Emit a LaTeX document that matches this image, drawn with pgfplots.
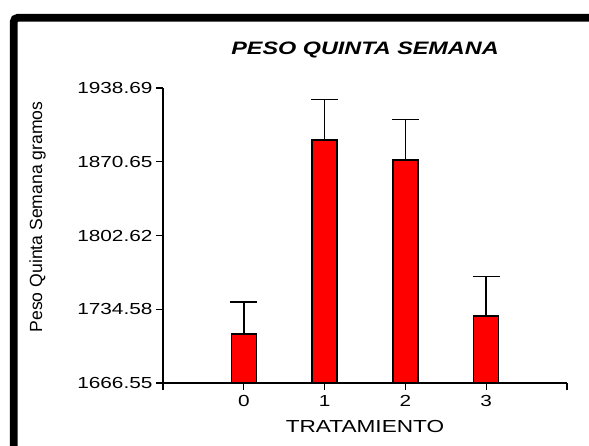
\documentclass[border=0pt]{standalone}
\usepackage{fontspec}
\setmainfont{Liberation Sans}[FakeStretch=1.3]
\newfontfamily\ylabfont{Liberation Sans}
\usepackage{pgfplots}
\pgfplotsset{compat=1.18}

\begin{document}
\begin{tikzpicture}[x=1pt,y=1pt]
\useasboundingbox (0,0) rectangle (589,446);
% marco negro (recortado arriba a la derecha y abajo)
\begin{scope}
  \clip (0,0) rectangle (589,446);
  \draw[line width=7.7pt, rounded corners=4pt] (13.7,-20) -- (13.7,428.2) -- (620,428.2);
\end{scope}
\begin{axis}[
    at={(163pt,63pt)}, anchor=south west,
    scale only axis,
    width=404pt, height=295pt,
    xmin=-1, xmax=4,
    ymin=1666.55, ymax=1938.69,
    axis lines*=left,
    tick pos=left,
    xtick={-1,0,1,2,3,4},
    xticklabels={,0,1,2,3,},
    ytick={1666.55,1734.58,1802.62,1870.65,1938.69},
    yticklabels={1666.55,1734.58,1802.62,1870.65,1938.69},
    tick align=outside,
    major tick length=7pt,
    tick style={black, line width=1.3pt},
    axis line style={black, line width=1.3pt},
    /pgf/number format/assume math mode=true,
    tick label style={font=\fontsize{16}{19}\selectfont},
    xticklabel style={yshift=-2pt},
    title={PESO QUINTA SEMANA},
    title style={font=\fontsize{18}{21}\selectfont\bfseries\itshape,
        at={(axis description cs:0.5,1)}, anchor=center, yshift=32pt},
    xlabel={TRATAMIENTO},
    xlabel style={font=\fontsize{17.4}{20}\selectfont,
        at={(axis description cs:0.5,0)}, anchor=center, yshift=-44pt},
    ylabel={Peso Quinta Semana gramos},
    ylabel style={font=\ylabfont\fontsize{17.6}{20}\selectfont,
        at={(axis description cs:-0.3106,0.563)}, anchor=center},
]
\addplot[ybar, bar width=25pt, fill=red, draw=black, line width=1.5pt,
    error bars/.cd, y dir=plus, y explicit,
    error mark=|,
    error mark options={black, line width=1.5pt, mark size=13.5pt},
    error bar style={black, line width=1.5pt}]
coordinates {
    (0,1711.8) +- (0,29.5)
    (1,1890.7) +- (0,37.6)
    (2,1872.3) +- (0,37.5)
    (3,1728.4) +- (0,36.2)
};
\end{axis}
\end{tikzpicture}
\end{document}
